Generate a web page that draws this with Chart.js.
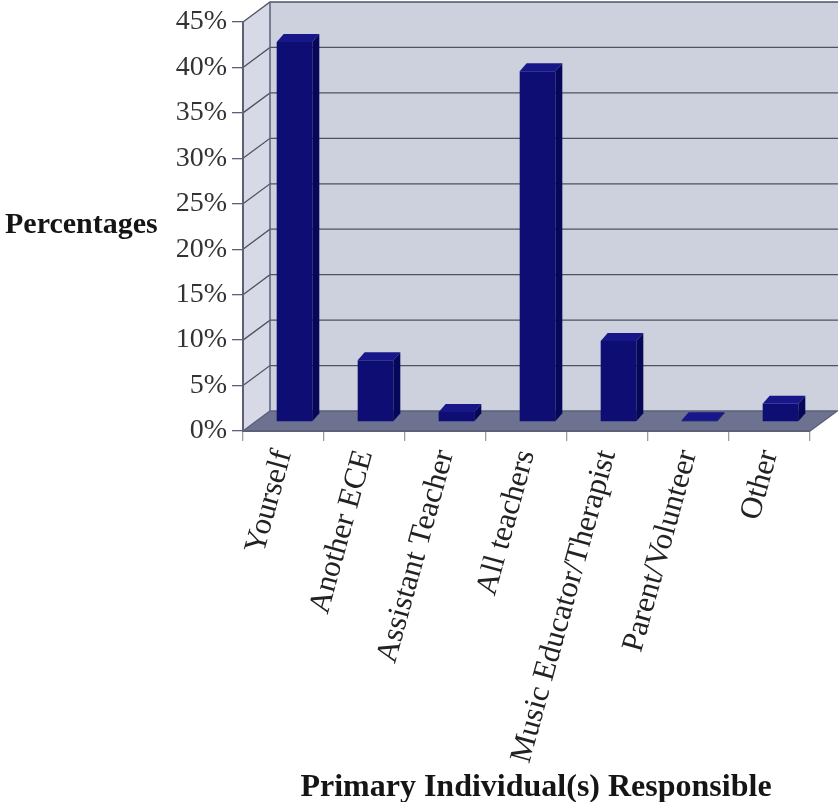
<!DOCTYPE html>
<html>
<head>
<meta charset="utf-8">
<script src="https://cdn.jsdelivr.net/npm/chart.js@4.4.1/dist/chart.umd.min.js"></script>
<style>
  html, body { margin: 0; padding: 0; background: #ffffff; }
  canvas { display: block; }
</style>
</head>
<body>
<canvas id="chart" width="838" height="802"></canvas>
<script>
// Survey: who is primarily responsible for music activities
const categories = [
  'Yourself',
  'Another ECE',
  'Assistant Teacher',
  'All teachers',
  'Music Educator/Therapist',
  'Parent/Volunteer',
  'Other'
];
const percentages = [41.8, 6.8, 1.1, 38.6, 8.9, 0.2, 2.0];
const yAxisMax = 45;
const yAxisStep = 5;
const yAxisTitle = 'Percentages';
const xAxisTitle = 'Primary Individual(s) Responsible';

const SERIF = '"Liberation Serif", "Times New Roman", Times, serif';

// Oblique projection used for the walls, floor and column boxes
const WALL_DX = 27, WALL_DY = -20;   // full depth of the plot box
const BAR_DX = 11, BAR_DY = -9;      // where the column front faces sit
const BOX_DX = 7, BOX_DY = -8;       // thickness of each column

const wallsPlugin = {
  id: 'walls',
  beforeDraw(chart) {
    const { ctx, chartArea: a, scales } = chart;
    const y = scales.y;
    const L = a.left, R = a.right, T = a.top, B = a.bottom;
    const edge = chart.width;
    ctx.save();
    // back wall
    ctx.fillStyle = '#cdd1dd';
    ctx.fillRect(L + WALL_DX, T + WALL_DY, edge - (L + WALL_DX), B - T);
    // left side wall
    ctx.fillStyle = '#d7dae6';
    ctx.beginPath();
    ctx.moveTo(L, T);
    ctx.lineTo(L + WALL_DX, T + WALL_DY);
    ctx.lineTo(L + WALL_DX, B + WALL_DY);
    ctx.lineTo(L, B);
    ctx.closePath();
    ctx.fill();
    // floor
    ctx.fillStyle = '#6d7290';
    ctx.beginPath();
    ctx.moveTo(L, B);
    ctx.lineTo(L + WALL_DX, B + WALL_DY);
    ctx.lineTo(R + WALL_DX, B + WALL_DY);
    ctx.lineTo(R, B);
    ctx.closePath();
    ctx.fill();

    // gridlines on back wall and matching diagonals on side wall
    ctx.strokeStyle = '#4f5262';
    ctx.lineWidth = 1.3;
    for (let v = yAxisStep; v <= yAxisMax; v += yAxisStep) {
      const py = y.getPixelForValue(v);
      ctx.beginPath();
      ctx.moveTo(L, py);
      ctx.lineTo(L + WALL_DX, py + WALL_DY);
      ctx.lineTo(edge, py + WALL_DY);
      ctx.stroke();
    }

    // box edges
    ctx.strokeStyle = '#5d6078';
    ctx.lineWidth = 1.5;
    ctx.beginPath();
    ctx.moveTo(L + WALL_DX, B + WALL_DY);
    ctx.lineTo(L + WALL_DX, T + WALL_DY);
    ctx.moveTo(L, B);
    ctx.lineTo(L + WALL_DX, B + WALL_DY);
    ctx.lineTo(R + WALL_DX, B + WALL_DY);
    ctx.lineTo(R, B);
    ctx.stroke();

    // axis titles
    ctx.fillStyle = '#151515';
    ctx.font = 'bold 30px ' + SERIF;
    ctx.textAlign = 'left';
    ctx.textBaseline = 'alphabetic';
    ctx.fillText(yAxisTitle, 5, 233);
    ctx.font = 'bold 32px ' + SERIF;
    ctx.textAlign = 'center';
    ctx.fillText(xAxisTitle, 536, 796);
    ctx.restore();
  },
  beforeDatasetsDraw(chart) {
    chart.ctx.save();
    chart.ctx.translate(BAR_DX, BAR_DY);
  },
  afterDatasetsDraw(chart) {
    const ctx = chart.ctx;
    chart.getSortedVisibleDatasetMetas().forEach(meta => {
      meta.data.forEach(bar => {
        const { x, y, base, width } = bar.getProps(['x', 'y', 'base', 'width'], true);
        const x1 = x - width / 2, x2 = x + width / 2;
        // top face
        ctx.fillStyle = '#17178a';
        ctx.beginPath();
        ctx.moveTo(x1, y);
        ctx.lineTo(x1 + BOX_DX, y + BOX_DY);
        ctx.lineTo(x2 + BOX_DX, y + BOX_DY);
        ctx.lineTo(x2, y);
        ctx.closePath();
        ctx.fill();
        // right side face
        ctx.fillStyle = '#07075a';
        ctx.beginPath();
        ctx.moveTo(x2, y);
        ctx.lineTo(x2 + BOX_DX, y + BOX_DY);
        ctx.lineTo(x2 + BOX_DX, base + BOX_DY);
        ctx.lineTo(x2, base);
        ctx.closePath();
        ctx.fill();
      });
    });
    ctx.restore();
  }
};

new Chart(document.getElementById('chart'), {
  type: 'bar',
  data: {
    labels: categories,
    datasets: [{
      data: percentages,
      backgroundColor: '#0d0d73',
      borderWidth: 0,
      categoryPercentage: 1.0,
      barPercentage: 0.44
    }]
  },
  plugins: [wallsPlugin],
  options: {
    responsive: false,
    animation: false,
    events: [],
    layout: { padding: { left: 0, top: 22, right: 28, bottom: 0 } },
    plugins: {
      legend: { display: false },
      tooltip: { enabled: false }
    },
    scales: {
      y: {
        min: 0,
        max: yAxisMax,
        afterFit(scale) { scale.width = 243; },
        ticks: {
          stepSize: yAxisStep,
          padding: 5,
          color: '#333333',
          font: { family: SERIF, size: 28 },
          callback: v => v + '%'
        },
        grid: {
          drawOnChartArea: false,
          drawTicks: true,
          tickLength: 11,
          color: '#5d6078',
          lineWidth: 1.3
        },
        border: { display: true, color: '#5d6078', width: 2 }
      },
      x: {
        afterFit(scale) { scale.height = 371; },
        ticks: {
          autoSkip: false,
          minRotation: 74.5,
          maxRotation: 74.5,
          padding: 5,
          color: '#222222',
          font: { family: SERIF, size: 31 }
        },
        grid: {
          offset: true,
          drawOnChartArea: false,
          drawTicks: true,
          tickLength: 10,
          color: '#9a9cab',
          lineWidth: 1.3
        },
        border: { display: true, color: '#5d6078', width: 2 }
      }
    }
  }
});
</script>
</body>
</html>
